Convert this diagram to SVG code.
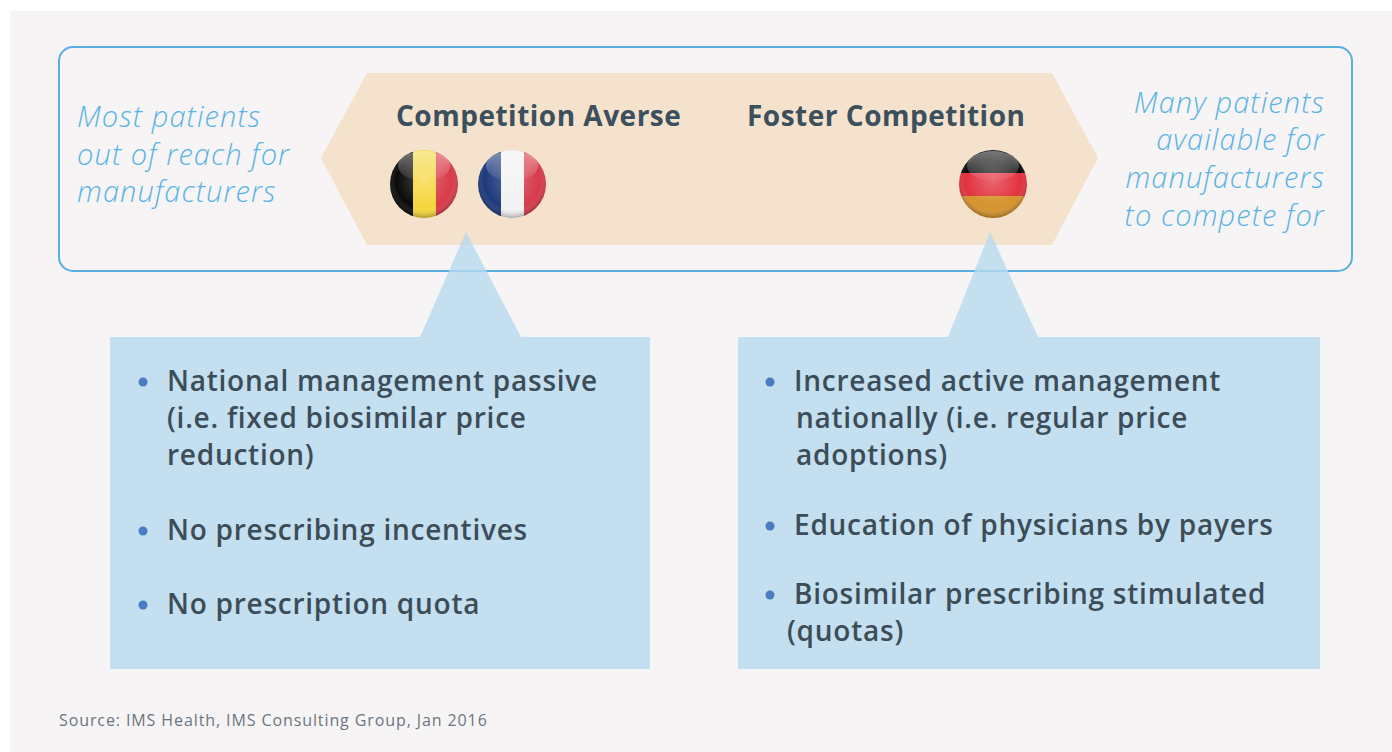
<svg xmlns="http://www.w3.org/2000/svg" width="1392" height="752" viewBox="0 0 1392 752">
<style>
.side{font-family:"Open Sans","Liberation Sans",sans-serif;font-style:italic;font-weight:300;font-size:29px;letter-spacing:1.1px;fill:#5ab3e4}
.head{font-family:"Open Sans","Liberation Sans",sans-serif;font-weight:700;font-size:28px;letter-spacing:0.5px;fill:#3b4f5c}
.bul{font-family:"Open Sans","Liberation Sans",sans-serif;font-weight:600;font-size:28px;letter-spacing:0.75px;fill:#3d4d58}
.src{font-family:"Open Sans","Liberation Sans",sans-serif;font-size:16px;letter-spacing:0.9px;fill:#6b7680}
.dot{fill:#4a7cc0}
.call{fill:#b6daef;opacity:0.8}
</style>
<defs>
<clipPath id="cb"><circle cx="424" cy="184" r="34"/></clipPath>
<clipPath id="cf"><circle cx="512" cy="184" r="34"/></clipPath>
<clipPath id="cg"><circle cx="993" cy="184" r="34"/></clipPath>
<radialGradient id="shine" cx="0.5" cy="0.45" r="0.55">
<stop offset="0" stop-color="#fff" stop-opacity="0.25"/>
<stop offset="0.75" stop-color="#fff" stop-opacity="0"/>
<stop offset="1" stop-color="#000" stop-opacity="0.3"/>
</radialGradient>
<linearGradient id="gloss" x1="0" y1="0" x2="0" y2="1">
<stop offset="0" stop-color="#fff" stop-opacity="0.45"/>
<stop offset="1" stop-color="#fff" stop-opacity="0.05"/>
</linearGradient>
</defs>
<rect x="0" y="0" width="1392" height="752" fill="#ffffff"/>
<rect x="10" y="11" width="1382" height="741" fill="#f6f4f5"/>
<g id="frame">
<rect x="59" y="47" width="1293" height="224" rx="14" fill="none" stroke="#5aaee0" stroke-width="2"/>
</g>
<g id="spectrum">
<polygon points="321,158 367,73 1052,73 1098,158 1052,245 367,245" fill="#f5e2cc"/>
<text class="head" x="396" y="126">Competition Averse</text>
<text class="head" x="747" y="126">Foster Competition</text>
</g>
<g id="flag-be">
<g clip-path="url(#cb)">
<rect x="390" y="150" width="23" height="68" fill="#0a0a0a"/>
<rect x="413" y="150" width="23" height="68" fill="#f5d63a"/>
<rect x="436" y="150" width="23" height="68" fill="#d93a48"/>
<circle cx="424" cy="184" r="34" fill="url(#shine)"/>
<ellipse cx="424" cy="166" rx="26" ry="15" fill="url(#gloss)"/>
</g>
</g>
<g id="flag-fr">
<g clip-path="url(#cf)">
<rect x="478" y="150" width="23" height="68" fill="#1e3a7c"/>
<rect x="501" y="150" width="23" height="68" fill="#f2f2f2"/>
<rect x="524" y="150" width="23" height="68" fill="#d63a4a"/>
<circle cx="512" cy="184" r="34" fill="url(#shine)"/>
<ellipse cx="512" cy="166" rx="26" ry="15" fill="url(#gloss)"/>
</g>
</g>
<g id="flag-de">
<g clip-path="url(#cg)">
<rect x="959" y="150" width="68" height="23" fill="#0a0a0a"/>
<rect x="959" y="173" width="68" height="23" fill="#e2323f"/>
<rect x="959" y="196" width="68" height="23" fill="#d6922c"/>
<circle cx="993" cy="184" r="34" fill="url(#shine)"/>
<ellipse cx="993" cy="166" rx="26" ry="15" fill="url(#gloss)"/>
</g>
</g>
<g id="left-label">
<text class="side" x="77" y="127">Most patients</text>
<text class="side" x="77" y="165">out of reach for</text>
<text class="side" x="77" y="202">manufacturers</text>
</g>
<g id="right-label" text-anchor="end">
<text class="side" x="1325" y="113">Many patients</text>
<text class="side" x="1325" y="150">available for</text>
<text class="side" x="1325" y="188">manufacturers</text>
<text class="side" x="1325" y="226">to compete for</text>
</g>
<g id="callout-left">
<path class="call" d="M110,337 L420,337 L466,232 L521,337 L650,337 L650,669 L110,669 Z"/>
<circle class="dot" cx="143" cy="382" r="4.5"/>
<text class="bul" x="167" y="391">National management passive</text>
<text class="bul" x="167" y="428">(i.e. fixed biosimilar price</text>
<text class="bul" x="167" y="465">reduction)</text>
<circle class="dot" cx="143" cy="531" r="4.5"/>
<text class="bul" x="167" y="540">No prescribing incentives</text>
<circle class="dot" cx="143" cy="605" r="4.5"/>
<text class="bul" x="167" y="614">No prescription quota</text>
</g>
<g id="callout-right">
<path class="call" d="M738,337 L948,337 L990,232 L1038,337 L1320,337 L1320,669 L738,669 Z"/>
<circle class="dot" cx="770" cy="382" r="4.5"/>
<text class="bul" x="794" y="391">Increased active management</text>
<text class="bul" x="796" y="428">nationally (i.e. regular price</text>
<text class="bul" x="796" y="465">adoptions)</text>
<circle class="dot" cx="770" cy="526" r="4.5"/>
<text class="bul" x="794" y="535">Education of physicians by payers</text>
<circle class="dot" cx="770" cy="595" r="4.5"/>
<text class="bul" x="794" y="604">Biosimilar prescribing stimulated</text>
<text class="bul" x="787" y="641">(quotas)</text>
</g>
<g id="connectors"/>
<text class="src" x="59" y="726">Source: IMS Health, IMS Consulting Group, Jan 2016</text>
</svg>
